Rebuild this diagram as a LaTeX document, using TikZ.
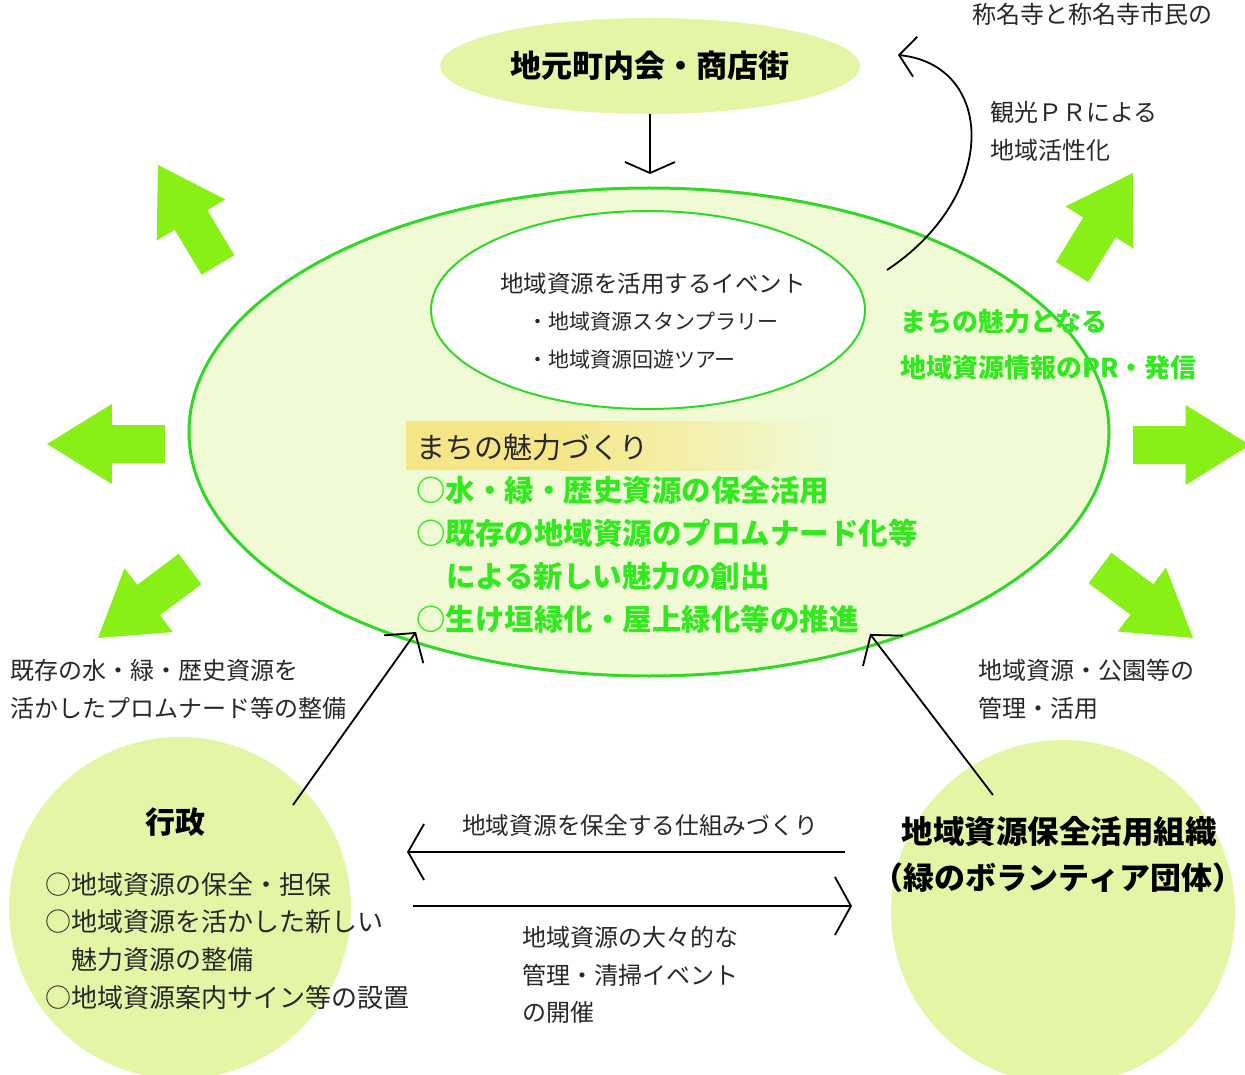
\documentclass[tikz,border=0pt]{standalone}
\usepackage{fontspec}
\setmainfont{Noto Sans CJK JP}
\usetikzlibrary{shapes.geometric,arrows.meta,calc}
\definecolor{circfill}{RGB}{228,246,165}
\definecolor{ellfill}{RGB}{240,250,212}
\definecolor{ellline}{RGB}{50,215,40}
\definecolor{gtext}{RGB}{50,232,30}
\definecolor{barrow}{RGB}{136,240,22}
\definecolor{hilite}{RGB}{246,230,135}
\definecolor{txt}{RGB}{40,40,40}
\newcommand\blockarrow[2]{%
  \coordinate (ba-t) at (#1);
  \coordinate (ba-h) at (#2);
  \coordinate (ba-m) at ($(ba-t)!0.45!(ba-h)$);
  \fill[barrow] ($(ba-t)!19pt!90:(ba-h)$) -- ($(ba-m)!19pt!90:(ba-h)$) -- ($(ba-m)!40pt!90:(ba-h)$)
    -- (ba-h) -- ($(ba-m)!40pt!-90:(ba-h)$) -- ($(ba-m)!19pt!-90:(ba-h)$) -- ($(ba-t)!19pt!-90:(ba-h)$) -- cycle;
}
\tikzset{
  lbl/.style={anchor=west, inner sep=0pt, text=txt, font=\fontsize{24}{24}\selectfont},
  glbl/.style={anchor=west, inner sep=0pt, text=gtext, font=\fontsize{29.5}{29.5}\selectfont\bfseries},
  conn/.style={draw=black, line width=1.8pt},
}
\begin{document}
\begin{tikzpicture}[x=1pt,y=-1pt]
\clip (0,0) rectangle (1245,1075);
\fill[white] (0,0) rectangle (1245,1075);

% main ellipse
\node[ellipse, fill=ellfill, draw=ellline, line width=3pt, minimum width=920pt, minimum height=488pt, inner sep=0pt] (main) at (649,432) {};
\node[ellipse, fill=white, draw=ellline, line width=2pt, minimum width=434pt, minimum height=198pt, inner sep=0pt] (event) at (648,310) {};

% highlight band
\fill[hilite] (406,421) rectangle (560,470);
\shade[left color=hilite, right color=ellfill] (559.5,421) rectangle (830,470);

% top ellipse
\node[ellipse, fill=circfill, minimum width=420pt, minimum height=96pt, inner sep=0pt,
      font=\fontsize{31}{31}\selectfont\bfseries, text=black] (town) at (650,66) {地元町内会・商店街};

% bottom circles
\node[circle, fill=circfill, minimum size=342pt, inner sep=0pt] (gov) at (180,908) {};
\node[circle, fill=circfill, minimum size=344pt, inner sep=0pt] (org) at (1063,912) {};

% texts inside event ellipse
\node[lbl, font=\fontsize{23.5}{23.5}\selectfont] (ev1) at (500,284) {地域資源を活用するイベント};
\node[lbl, font=\fontsize{21}{21}\selectfont] (ev2) at (527,322) {・地域資源スタンプラリー};
\node[lbl, font=\fontsize{21}{21}\selectfont] (ev3) at (527,360) {・地域資源回遊ツアー};

% main texts
\node[lbl, font=\fontsize{29}{29}\selectfont] (mt) at (416,447) {まちの魅力づくり};
\node[glbl] (g1) at (416,490) {○水・緑・歴史資源の保全活用};
\node[glbl] (g2) at (416,533) {○既存の地域資源のプロムナード化等};
\node[glbl] (g3) at (446,576) {による新しい魅力の創出};
\node[glbl] (g4) at (416,619) {○生け垣緑化・屋上緑化等の推進};

\node[glbl, font=\fontsize{26}{26}\selectfont\bfseries] (pr1) at (900,322) {まちの魅力となる};
\node[glbl, font=\fontsize{26}{26}\selectfont\bfseries] (pr2) at (900,368) {地域資源情報のPR・発信};

% outside labels
\node[lbl] (top) at (972,14) {称名寺と称名寺市民の};
\node[lbl] (kk1) at (990,112) {観光ＰＲによる};
\node[lbl] (kk2) at (990,150) {地域活性化};
\node[lbl] (l1) at (10,670) {既存の水・緑・歴史資源を};
\node[lbl] (l2) at (10,708) {活かしたプロムナード等の整備};
\node[lbl] (r1) at (978,670) {地域資源・公園等の};
\node[lbl] (r2) at (978,708) {管理・活用};
\node[lbl, font=\fontsize{23.7}{23.7}\selectfont] (h1) at (462,826) {地域資源を保全する仕組みづくり};
\node[lbl] (h2) at (522,937) {地域資源の大々的な};
\node[lbl] (h3) at (522,975) {管理・清掃イベント};
\node[lbl] (h4) at (522,1012) {の開催};

% gov texts
\node[anchor=center, inner sep=0pt, font=\fontsize{30}{30}\selectfont\bfseries] (govt) at (175,822) {行政};
\node[lbl, font=\fontsize{26}{26}\selectfont] (gv1) at (45,885) {○地域資源の保全・担保};
\node[lbl, font=\fontsize{26}{26}\selectfont] (gv2) at (45,922) {○地域資源を活かした新しい};
\node[lbl, font=\fontsize{26}{26}\selectfont] (gv3) at (71,960) {魅力資源の整備};
\node[lbl, font=\fontsize{26}{26}\selectfont] (gv4) at (45,998) {○地域資源案内サイン等の設置};

% org texts
\node[anchor=center, inner sep=0pt, font=\fontsize{31.5}{31.5}\selectfont\bfseries] (orgt1) at (1059,832) {地域資源保全活用組織};
\node[anchor=center, inner sep=0pt, font=\fontsize{31}{31}\selectfont\bfseries] (orgt2) at (1058,878) {（緑のボランティア団体）};

% block arrows
\blockarrow{218,265}{158,165}
\blockarrow{165,444}{47,444}
\blockarrow{190,569}{98,638}
\blockarrow{1072,272}{1133,173}
\blockarrow{1133,445}{1250,445}
\blockarrow{1100,568}{1193,638}

% connectors
\coordinate (townS) at (650,114);
\coordinate (mainN) at (650,174);
\draw[conn, -{Straight Barb[length=11pt,width=50pt,line width=1.8pt]}] (townS) -- (mainN);

\coordinate (evR) at (887,270);
\coordinate (prTip) at (898,55);
\draw[conn, -{Straight Barb[length=16pt,width=40pt,line width=1.8pt]}] (evR) .. controls (1000,195) and (995,65) .. (prTip);

\coordinate (govA) at (293,805);
\coordinate (mainSW) at (416,632);
\draw[conn, -{Straight Barb[length=20pt,width=48pt,line width=1.8pt]}] (govA) -- (mainSW);

\coordinate (orgA) at (993,795);
\coordinate (mainSE) at (870,634);
\draw[conn, -{Straight Barb[length=20pt,width=50pt,line width=1.8pt]}] (orgA) -- (mainSE);

\coordinate (orgL1) at (845,852);
\coordinate (govR1) at (407,852);
\draw[conn, -{Straight Barb[length=16pt,width=56pt,line width=1.8pt]}] (orgL1) -- (govR1);

\coordinate (govR2) at (413,906);
\coordinate (orgL2) at (852,906);
\draw[conn, -{Straight Barb[length=16pt,width=58pt,line width=1.8pt]}] (govR2) -- (orgL2);
\end{tikzpicture}
\end{document}
